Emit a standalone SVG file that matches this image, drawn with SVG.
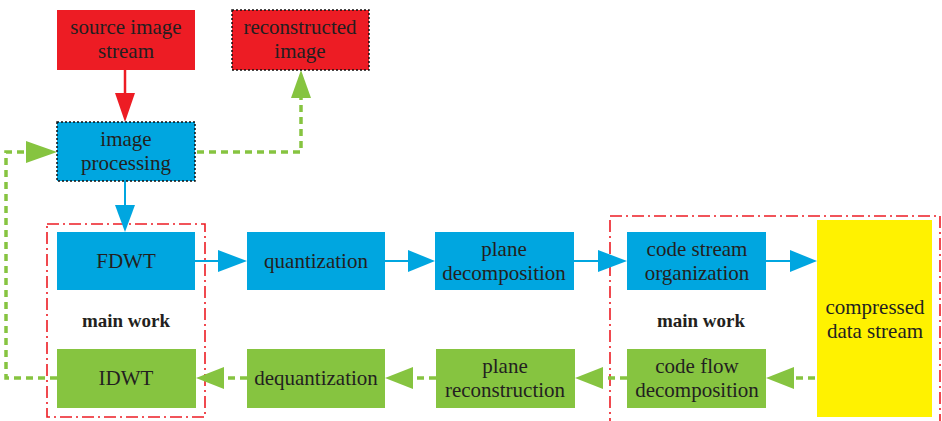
<svg xmlns="http://www.w3.org/2000/svg" width="942" height="421" viewBox="0 0 942 421">
<style>
.t{font-family:"Liberation Serif","DejaVu Serif",serif;font-size:21px;fill:#231f20;text-anchor:middle}
.b{font-weight:bold;font-size:19px}
.red{fill:#ed1c24}
.blue{fill:#00a6e0}
.green{fill:#86c440}
.yellow{fill:#fff200}
.dot{stroke:#111;stroke-width:1.5;stroke-dasharray:2 2}
.bl{stroke:#00a6e0;stroke-width:2;fill:none}
.gl{stroke:#86c440;stroke-width:3.5;fill:none;stroke-dasharray:7 5}
.rl{stroke:#ed1c24;stroke-width:2.5;fill:none}
.dd{stroke:#ed1c24;stroke-width:1.6;fill:none;stroke-dasharray:12 4 2 4}
</style>
<rect width="942" height="421" fill="#fff"/>
<g id="groups">
<rect class="dd" x="47" y="224" width="158" height="193"/>
<rect class="dd" x="610" y="216" width="330" height="206"/>
</g>
<g id="connectors">
<line class="rl" x1="125" y1="70" x2="125" y2="95"/>
<polygon fill="#ed1c24" points="115,93 135,93 125,122"/>
<line class="bl" x1="125" y1="181" x2="125" y2="206"/>
<polygon fill="#00a6e0" points="115,205 135,205 125,232"/>
<polyline class="gl" points="197,152 301,152 301,98"/>
<polygon fill="#86c440" points="291,98 311,98 301,70"/>
<polyline class="gl" points="57,378 6,378 6,152 28,152"/>
<polygon fill="#86c440" points="26,141 26,163 57,152"/>
<line class="bl" x1="195" y1="261" x2="220" y2="261"/>
<polygon fill="#00a6e0" points="218,250 218,272 247,261"/>
<line class="bl" x1="385" y1="261" x2="410" y2="261"/>
<polygon fill="#00a6e0" points="408,250 408,272 435,261"/>
<line class="bl" x1="574" y1="261" x2="600" y2="261"/>
<polygon fill="#00a6e0" points="598,250 598,272 627,261"/>
<line class="bl" x1="766" y1="261" x2="792" y2="261"/>
<polygon fill="#00a6e0" points="790,250 790,272 817,261"/>
<line class="gl" x1="815" y1="378" x2="793" y2="378"/>
<polygon fill="#86c440" points="794,367 794,389 766,378"/>
<line class="gl" x1="627" y1="378" x2="602" y2="378"/>
<polygon fill="#86c440" points="603,367 603,389 575,378"/>
<line class="gl" x1="436" y1="378" x2="412" y2="378"/>
<polygon fill="#86c440" points="413,367 413,389 385,378"/>
<line class="gl" x1="247" y1="378" x2="222" y2="378"/>
<polygon fill="#86c440" points="224,367 224,389 196,378"/>
</g>
<g id="source"><rect class="red" x="57" y="10" width="138" height="60"/><text class="t" x="126" y="34">source image</text><text class="t" x="126" y="58">stream</text></g>
<g id="reconstructed"><rect class="red dot" x="232" y="10" width="137" height="60"/><text class="t" x="300" y="34">reconstructed</text><text class="t" x="300" y="58">image</text></g>
<g id="processing"><rect class="blue dot" x="57" y="122" width="138" height="59"/><text class="t" x="126" y="146">image</text><text class="t" x="126" y="170">processing</text></g>
<g id="fdwt"><rect class="blue" x="57" y="232" width="138" height="58"/><text class="t" x="126" y="268">FDWT</text></g>
<g id="quant"><rect class="blue" x="247" y="232" width="138" height="58"/><text class="t" x="316" y="268">quantization</text></g>
<g id="planedec"><rect class="blue" x="435" y="232" width="139" height="58"/><text class="t" x="504" y="256">plane</text><text class="t" x="504" y="280">decomposition</text></g>
<g id="codeorg"><rect class="blue" x="627" y="232" width="139" height="58"/><text class="t" x="697" y="256">code stream</text><text class="t" x="697" y="280">organization</text></g>
<g id="compressed"><rect class="yellow" x="817" y="220" width="115" height="197"/><text class="t" x="875" y="314">compressed</text><text class="t" x="875" y="338">data stream</text></g>
<g id="idwt"><rect class="green" x="57" y="349" width="139" height="59"/><text class="t" x="126" y="385">IDWT</text></g>
<g id="dequant"><rect class="green" x="247" y="349" width="138" height="59"/><text class="t" x="316" y="385">dequantization</text></g>
<g id="planerec"><rect class="green" x="436" y="349" width="139" height="59"/><text class="t" x="505" y="373">plane</text><text class="t" x="505" y="397">reconstruction</text></g>
<g id="codeflow"><rect class="green" x="627" y="349" width="139" height="59"/><text class="t" x="697" y="373">code flow</text><text class="t" x="697" y="397">decomposition</text></g>
<g id="labels"><text class="t b" x="126" y="327">main work</text><text class="t b" x="701" y="327">main work</text></g>
</svg>
